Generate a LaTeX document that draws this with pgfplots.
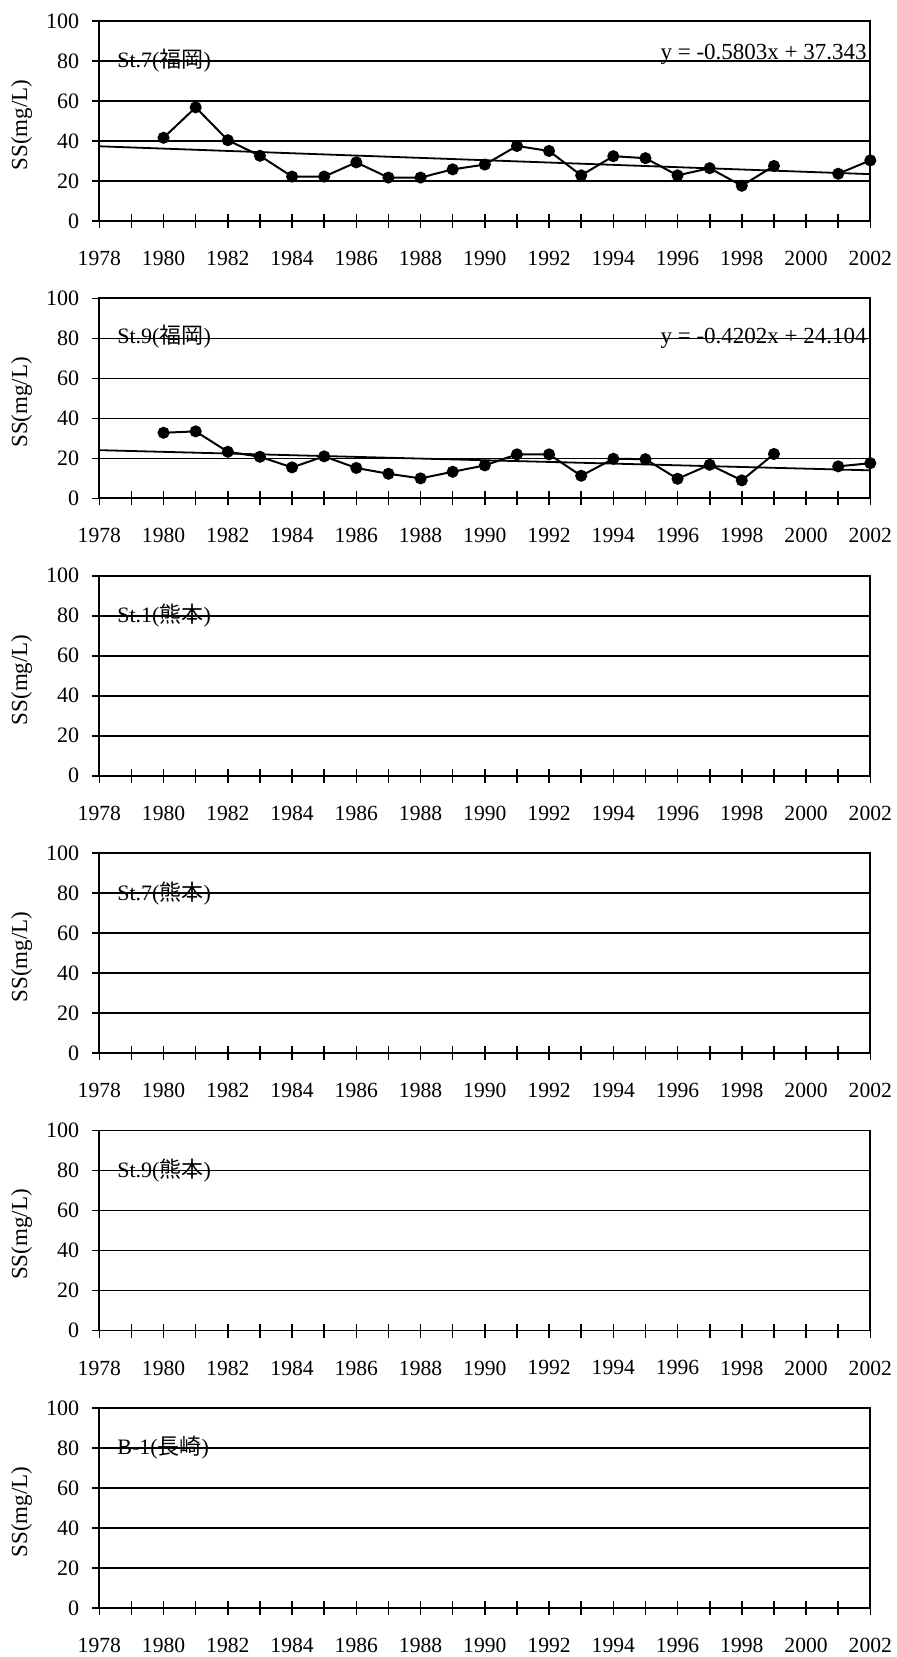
\documentclass[border=0pt]{standalone}
\usepackage{fontspec}
\setmainfont{Liberation Serif}
\newfontfamily\cjk{Noto Sans CJK JP}
\usepackage{pgfplots}
\pgfplotsset{compat=1.18}
\pgfplotsset{panel/.style={
  scale only axis, width=385.5pt, height=100pt,
  anchor=south west,
  xmin=1978, xmax=2002, ymin=0, ymax=100,
  xtick={1978,1980,...,2002}, minor xtick={1979,1981,...,2001},
  ytick={0,20,...,100},
  xtick pos=left, ytick pos=left,
  ymajorgrids, major grid style={black, line width=0.8pt},
  axis line style={black, line width=0.9pt},
  tick style={black, line width=0.8pt},
  tick align=center, major tick length=7pt, minor tick length=7pt,
  /pgf/number format/assume math mode=true,
  /pgf/number format/1000 sep={},
  xticklabel style={font=\fontsize{10.8}{12}\selectfont, yshift=-8pt},
  yticklabel style={font=\fontsize{11}{12}\selectfont, xshift=-3pt},
  ylabel={SS(mg/L)},
  every axis y label/.style={at={(axis description cs:-0.1008,0.48)}, rotate=90, anchor=center, font=\fontsize{11.5}{12}\selectfont},
  unbounded coords=jump,
  clip=false,
}}
\tikzset{stlab/.style={anchor=west, font=\fontsize{11}{12}\selectfont, inner sep=0pt},
  eqlab/.style={anchor=east, font=\fontsize{11.5}{12}\selectfont, inner sep=0pt},
  datal/.style={black, line width=1pt, mark=*, mark size=2.5pt, mark options={solid, fill=black}},
  trend/.style={black, line width=0.9pt}}
\begin{document}
\begin{tikzpicture}
\useasboundingbox (0,0) rectangle (448pt,828.5pt);
% Panel 1
\begin{axis}[panel, at={(49.65pt,718pt)}]
\addplot[datal] coordinates {(1980,41.6) (1981,56.8) (1982,40.4) (1983,32.6) (1984,22.2) (1985,22.2) (1986,29.3) (1987,21.7) (1988,21.7) (1989,25.8) (1990,28.2) (1991,37.5) (1992,35.0) (1993,22.8) (1994,32.4) (1995,31.4) (1996,22.8) (1997,26.4) (1998,17.6) (1999,27.5) (2000,nan) (2001,23.6) (2002,30.3)};
\addplot[trend] coordinates {(1978,37.343) (2002,23.416)};
\node[stlab] at (axis cs:1978.55,80) {St.7({\cjk 福岡})};
\node[eqlab] at (axis cs:2001.9,83.3) {y = -0.5803x + 37.343};
\end{axis}
% Panel 2
\begin{axis}[panel, at={(49.65pt,579.3pt)}]
\addplot[datal] coordinates {(1980,32.8) (1981,33.5) (1982,23.3) (1983,20.8) (1984,15.5) (1985,21.0) (1986,15.2) (1987,12.3) (1988,10.0) (1989,13.3) (1990,16.5) (1991,22.0) (1992,22.0) (1993,11.3) (1994,19.8) (1995,19.6) (1996,9.8) (1997,16.8) (1998,9.0) (1999,22.2) (2000,nan) (2001,16.0) (2002,17.6)};
\addplot[trend] coordinates {(1978,24.104) (2002,14.019)};
\node[stlab] at (axis cs:1978.55,81) {St.9({\cjk 福岡})};
\node[eqlab] at (axis cs:2001.9,80) {y = -0.4202x + 24.104};
\end{axis}
% Panel 3
\begin{axis}[panel, at={(49.65pt,440.6pt)}]
\node[stlab] at (axis cs:1978.55,80) {St.1({\cjk 熊本})};
\end{axis}
% Panel 4
\begin{axis}[panel, at={(49.65pt,301.9pt)}]
\node[stlab] at (axis cs:1978.55,80) {St.7({\cjk 熊本})};
\end{axis}
% Panel 5
\begin{axis}[panel, at={(49.65pt,163.2pt)}]
\node[stlab] at (axis cs:1978.55,80) {St.9({\cjk 熊本})};
\end{axis}
% Panel 6
\begin{axis}[panel, at={(49.65pt,24.5pt)}]
\node[stlab] at (axis cs:1978.55,80) {B-1({\cjk 長崎})};
\end{axis}
\end{tikzpicture}
\end{document}
